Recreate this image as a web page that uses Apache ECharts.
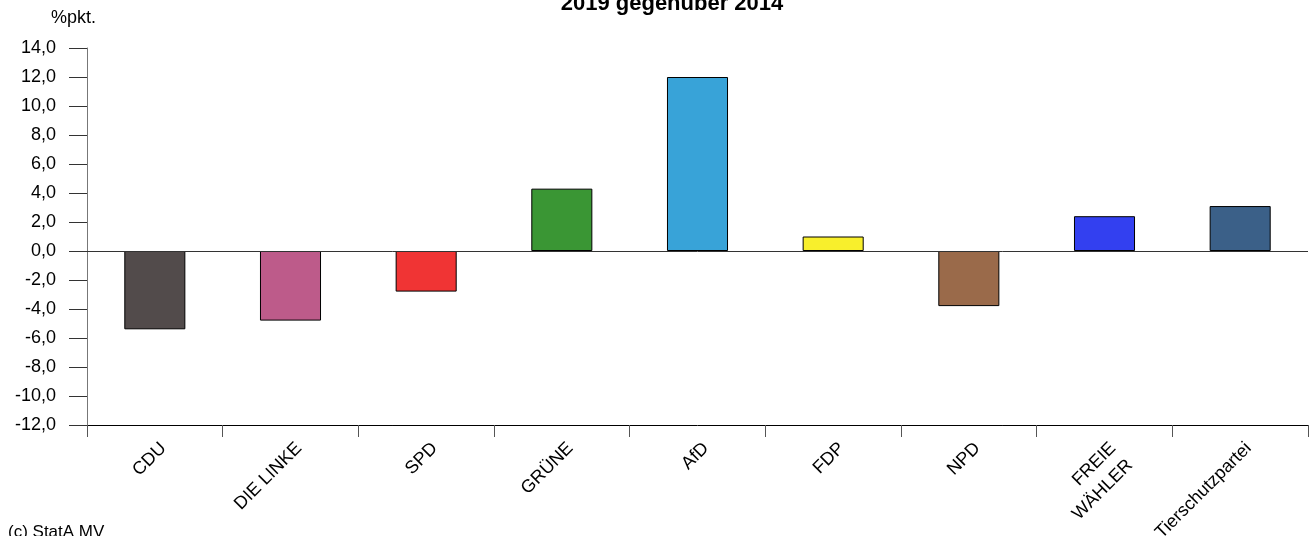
<!DOCTYPE html>
<html>
<head>
<meta charset="utf-8">
<script src="https://cdn.jsdelivr.net/npm/echarts@6/dist/echarts.min.js"></script>
<style>
  html, body { margin: 0; padding: 0; background: #fff; }
  #chart { width: 1309px; height: 536px; }
</style>
</head>
<body>
<div id="chart"></div>
<script>
const parties = ['CDU', 'DIE LINKE', 'SPD', 'GRÜNE', 'AfD', 'FDP', 'NPD', 'FREIE\nWÄHLER', 'Tierschutzpartei'];
const change = [-5.4, -4.8, -2.8, 4.3, 12.0, 1.0, -3.8, 2.4, 3.1];
const partyColors = ['#524b4b', '#bd5b8a', '#f03434', '#3a9634', '#38a3d8', '#f8ef2c', '#9a6a4a', '#3340f0', '#3b6088'];

const fontFamily = 'Liberation Sans, Arial, sans-serif';

const chart = echarts.init(document.getElementById('chart'));

chart.setOption({
    animation: false,
    textStyle: {fontFamily},
    graphic: [
        {
            type: 'text',
            x: 672,
            y: 15,
            style: {
                text: '2019 gegenüber 2014',
                font: 'bold 22px ' + fontFamily,
                fill: '#000',
                textAlign: 'center',
                textVerticalAlign: 'bottom'
            }
        },
        {
            type: 'text',
            x: 51,
            y: 9,
            style: {text: '%pkt.', font: '18px ' + fontFamily, fill: '#000'}
        },
        {
            type: 'text',
            x: 8,
            y: 524,
            style: {text: '(c) StatA MV', font: '17px ' + fontFamily, fill: '#000'}
        }
    ],
    grid: {left: 87, right: 1, top: 48, bottom: 111, containLabel: false, outerBoundsMode: 'none'},
    xAxis: {
        type: 'category',
        data: parties,
        boundaryGap: true,
        axisLine: {onZero: false, lineStyle: {color: '#000', width: 1}},
        axisTick: {show: true, length: 12, lineStyle: {color: '#555'}},
        axisLabel: {
            rotate: 45,
            interval: 0,
            margin: 12,
            fontSize: 18,
            color: '#000',
            lineHeight: 24,
            verticalAlign: 'top',
            fontFamily
        },
        splitLine: {show: false}
    },
    yAxis: {
        type: 'value',
        min: -12,
        max: 14,
        interval: 2,
        axisLine: {show: true, onZero: false, lineStyle: {color: '#777'}},
        axisTick: {show: true, length: 18, lineStyle: {color: '#333'}},
        axisLabel: {
            margin: 31,
            fontSize: 18,
            color: '#000',
            fontFamily,
            formatter: v => v.toFixed(1).replace('.', ',')
        },
        splitLine: {show: false}
    },
    series: [{
        type: 'bar',
        barWidth: '45%',
        data: change.map((v, i) => ({
            value: v,
            itemStyle: {color: partyColors[i], borderColor: '#000', borderWidth: 1}
        })),
        markLine: {
            silent: true,
            symbol: 'none',
            label: {show: false},
            lineStyle: {color: '#333', type: 'solid', width: 1},
            data: [{yAxis: 0}]
        }
    }]
});
</script>
</body>
</html>
